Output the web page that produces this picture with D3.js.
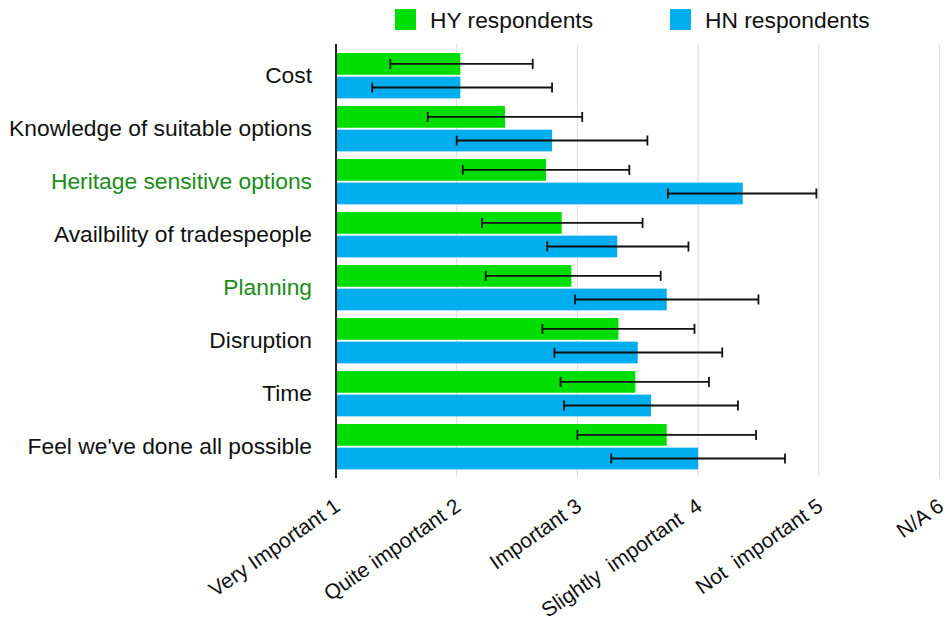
<!DOCTYPE html>
<html><head><meta charset="utf-8">
<script src="https://cdn.jsdelivr.net/npm/d3@7"></script>
<style>
body{margin:0;background:#fff;}
text{font-family:"Liberation Sans",Arial,sans-serif;}
</style></head>
<body><svg id="c" width="950" height="624"></svg>
<script>
const categories = ["Cost","Knowledge of suitable options","Heritage sensitive options","Availbility of tradespeople","Planning","Disruption","Time","Feel we've done all possible"];
const highlighted = ["Heritage sensitive options","Planning"];
const series = ["HY respondents","HN respondents"];
const hyMean = [2.03,2.40,2.74,2.87,2.95,3.34,3.48,3.74];
const hyLow  = [1.45,1.76,2.05,2.21,2.24,2.71,2.86,3.00];
const hyHigh = [2.63,3.04,3.43,3.54,3.69,3.97,4.09,4.48];
const hnMean = [2.03,2.79,4.37,3.33,3.74,3.50,3.61,4.00];
const hnLow  = [1.30,2.00,3.75,2.75,2.98,2.81,2.89,3.28];
const hnHigh = [2.79,3.58,4.98,3.92,4.50,4.20,4.33,4.72];
const tickValues = [1,2,3,4,5,6];
const tickLabels = ["Very Important 1","Quite important 2","Important 3","Slightly  important  4","Not  important 5","N/A 6"];
const colors = ["#00dd00","#00adef"];

const svg = d3.select("#c");
const x = d3.scaleLinear().domain([1,6]).range([336,939.5]);
const y = d3.scaleBand().domain(categories).range([49.2,473.2]).paddingInner(0.145).paddingOuter(0.0725);
const ys = d3.scaleBand().domain(series).range([0,y.bandwidth()]).paddingInner(0.08);

// gridlines
svg.append("g").selectAll("line").data(tickValues.slice(1)).join("line")
  .attr("x1",d=>x(d)).attr("x2",d=>x(d)).attr("y1",44).attr("y2",477)
  .attr("stroke","#dcdcdc").attr("stroke-width",1);

const rows = categories.map((c,i)=>({c, vals:[
  {s:series[0],m:hyMean[i],lo:hyLow[i],hi:hyHigh[i]},
  {s:series[1],m:hnMean[i],lo:hnLow[i],hi:hnHigh[i]}]}));

const g = svg.append("g").selectAll("g").data(rows).join("g")
  .attr("transform",d=>`translate(0,${y(d.c)})`);
g.selectAll("rect").data(d=>d.vals).join("rect")
  .attr("x",x(1)).attr("y",d=>ys(d.s)).attr("height",ys.bandwidth())
  .attr("width",d=>x(d.m)-x(1)).attr("fill",(d,i)=>colors[i]);
const eb = g.selectAll("g.eb").data(d=>d.vals).join("g").attr("class","eb")
  .attr("transform",d=>`translate(0,${ys(d.s)+ys.bandwidth()/2})`);
eb.append("line").attr("x1",d=>x(d.lo)).attr("x2",d=>x(d.hi)).attr("stroke","#111").attr("stroke-width",1.8);
eb.append("line").attr("x1",d=>x(d.lo)).attr("x2",d=>x(d.lo)).attr("y1",-5).attr("y2",5).attr("stroke","#111").attr("stroke-width",1.8);
eb.append("line").attr("x1",d=>x(d.hi)).attr("x2",d=>x(d.hi)).attr("y1",-5).attr("y2",5).attr("stroke","#111").attr("stroke-width",1.8);

// y axis
const yAxis = d3.axisLeft(y).tickSize(0).tickPadding(24);
const ya = svg.append("g").attr("transform",`translate(${x(1)},0)`).call(yAxis);
ya.select(".domain").remove();
ya.selectAll("text").attr("font-size",22.8).attr("fill",d=>highlighted.includes(d)?"#1a8c1a":"#111")
  .style("font-family","'Liberation Sans',Arial,sans-serif");
svg.append("line").attr("x1",x(1)).attr("x2",x(1)).attr("y1",44).attr("y2",478).attr("stroke","#222").attr("stroke-width",2);

// x axis labels
svg.append("g").selectAll("text").data(tickValues).join("text")
  .attr("transform",d=>`translate(${x(d)-3},${497}) rotate(-35)`)
  .attr("text-anchor","end").attr("dy","0.71em").attr("font-size",21).attr("fill","#111")
  .style("white-space","pre").text((d,i)=>tickLabels[i]);

// legend
const leg = svg.append("g").selectAll("g").data(series).join("g")
  .attr("transform",(d,i)=>`translate(${[395,670][i]},9)`);
leg.append("rect").attr("width",21).attr("height",21).attr("fill",(d,i)=>colors[i]);
leg.append("text").attr("x",35).attr("y",19).attr("font-size",22.8).attr("fill","#111").text(d=>d);
</script></body></html>
